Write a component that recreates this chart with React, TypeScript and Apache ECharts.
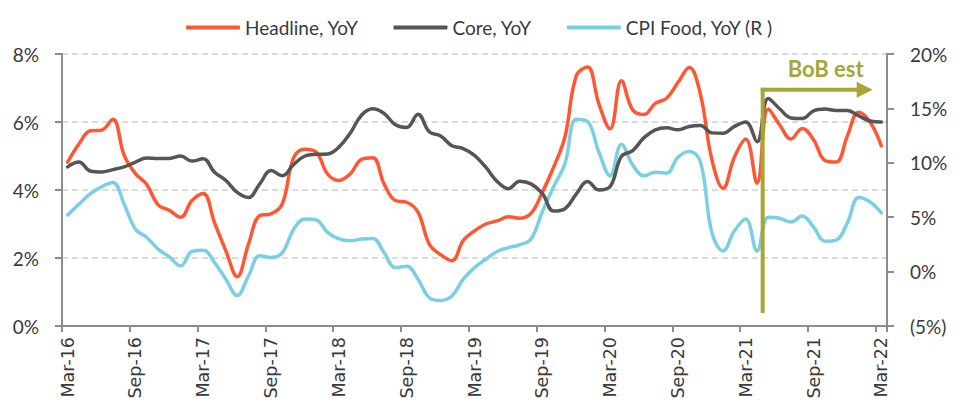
import React, { useEffect, useRef } from 'react';
import * as echarts from 'echarts';

const categories = [
  'Mar-16','Apr-16','May-16','Jun-16','Jul-16','Aug-16','Sep-16','Oct-16','Nov-16','Dec-16','Jan-17','Feb-17',
  'Mar-17','Apr-17','May-17','Jun-17','Jul-17','Aug-17','Sep-17','Oct-17','Nov-17','Dec-17','Jan-18','Feb-18',
  'Mar-18','Apr-18','May-18','Jun-18','Jul-18','Aug-18','Sep-18','Oct-18','Nov-18','Dec-18','Jan-19','Feb-19',
  'Mar-19','Apr-19','May-19','Jun-19','Jul-19','Aug-19','Sep-19','Oct-19','Nov-19','Dec-19','Jan-20','Feb-20',
  'Mar-20','Apr-20','May-20','Jun-20','Jul-20','Aug-20','Sep-20','Oct-20','Nov-20','Dec-20','Jan-21','Feb-21',
  'Mar-21','Apr-21','May-21','Jun-21','Jul-21','Aug-21','Sep-21','Oct-21','Nov-21','Dec-21','Jan-22','Feb-22',
  'Mar-22',
];

const headline = [
  4.82, 5.35, 5.74, 5.76, 6.08, 5.02, 4.48, 4.16, 3.56, 3.4, 3.2, 3.69,
  3.9, 3.03, 2.21, 1.45, 2.41, 3.25, 3.3, 3.6, 4.95, 5.2, 5.11, 4.47,
  4.28, 4.47, 4.9, 4.95, 4.18, 3.69, 3.64, 3.35, 2.41, 2.1, 1.92, 2.51,
  2.8, 3.0, 3.09, 3.21, 3.17, 3.31, 3.93, 4.67, 5.56, 7.35, 7.62, 6.54,
  5.8, 7.21, 6.35, 6.22, 6.55, 6.7, 7.16, 7.6, 6.8, 4.9, 4.05, 4.97,
  5.5, 4.2, 6.38, 5.92, 5.5, 5.81, 5.48, 4.87, 4.82, 5.6, 6.29, 6.0,
  5.3,
];

const core = [
  4.68, 4.82, 4.56, 4.53, 4.6, 4.68, 4.82, 4.94, 4.93, 4.93, 5.0, 4.85,
  4.92, 4.52, 4.28, 3.93, 3.78, 4.18, 4.57, 4.42, 4.75, 5.0, 5.05, 5.06,
  5.26, 5.67, 6.2, 6.39, 6.25, 5.92, 5.84, 6.23, 5.71, 5.59, 5.3, 5.22,
  5.02, 4.67, 4.25, 4.04, 4.26, 4.18, 3.9, 3.38, 3.45, 3.88, 4.25, 4.0,
  4.1, 4.99, 5.16, 5.54, 5.77, 5.83, 5.77, 5.87, 5.9, 5.68, 5.67, 5.87,
  6.0, 5.42, 6.69, 6.39, 6.12, 6.1, 6.33, 6.38, 6.34, 6.34, 6.18, 6.03,
  6.0,
];

const cpiFood = [
  5.2, 6.2, 7.14, 7.8, 8.2, 6.2, 3.9, 3.14, 2.06, 1.35, 0.52, 1.85,
  1.97, 0.83, -0.7, -2.2, -0.4, 1.45, 1.3, 1.75, 3.9, 4.83, 4.74, 3.6,
  3.0, 2.83, 3.0, 3.05, 1.75, 0.37, 0.49, -0.7, -2.4, -2.65, -2.25, -0.7,
  0.37, 1.14, 1.85, 2.2, 2.46, 3.0, 5.5, 7.8, 9.9, 14.0, 13.8, 11.0,
  8.8, 11.7, 9.8, 8.8, 9.14, 9.05, 10.5, 11.05, 10.06, 3.6, 1.9, 3.75,
  4.83, 1.9, 5.0, 4.9, 4.55, 5.1, 4.1, 2.8, 2.9, 4.5, 6.8, 6.4,
  5.4,
];

const seriesNames = ['Headline, YoY', 'Core, YoY', 'CPI Food, YoY (R )'];
const seriesColors = ['#FF5733', '#555555', '#7ACFE3'];
const estStart = 'May-21';
const estLabel = 'BoB est';
const olive = '#A4A735';
const FONT = 'Lato, "Noto Sans", sans-serif';
const XFONT = '"DejaVu Sans", Lato, sans-serif';

function fmtRight(v: number) {
  return v < 0 ? `(${Math.abs(v)}%)` : `${v}%`;
}

export default function App() {
  const ref = useRef<HTMLDivElement>(null);
  useEffect(() => {
    if (!ref.current) return;
    const chart = echarts.init(ref.current, null, { renderer: 'svg' });
    const axisLine = { show: true, lineStyle: { color: '#8c8c8c', width: 2 } };
    chart.setOption({
      animation: false,
      textStyle: { fontFamily: FONT },
      grid: { left: 62, right: 80, top: 54, bottom: 82, containLabel: false },
      legend: {
        left: 181,
        top: 13,
        icon: 'roundRect',
        itemWidth: 54,
        itemHeight: 4,
        itemGap: 35,
        textStyle: { fontSize: 19, color: '#3a3a3a', fontFamily: FONT },
        data: seriesNames,
      },
      xAxis: {
        type: 'category',
        data: categories,
        boundaryGap: true,
        axisLine,
        axisTick: {
          show: true,
          length: 6,
          lineStyle: { color: '#8c8c8c', width: 2 },
          interval: (i: number) => i % 6 === 0,
        },
        axisLabel: {
          rotate: 90,
          margin: 11,
          fontSize: 17.5,
          color: '#3a3a3a',
          fontFamily: XFONT,
          interval: (i: number) => i % 6 === 0,
        },
        splitLine: { show: false },
      },
      yAxis: [
        {
          type: 'value',
          min: 0,
          max: 8,
          interval: 2,
          position: 'left',
          axisLine,
          axisTick: { show: true, length: 7, lineStyle: { color: '#8c8c8c', width: 2 } },
          axisLabel: { formatter: '{value}%', fontSize: 19, color: '#3a3a3a', margin: 23, fontFamily: FONT },
          splitLine: { show: true, lineStyle: { color: '#d0d0d0', width: 1.5, type: [6, 4] } },
        },
        {
          type: 'value',
          min: -5,
          max: 20,
          interval: 5,
          position: 'right',
          axisLine,
          axisTick: { show: true, length: 7, lineStyle: { color: '#8c8c8c', width: 2 } },
          axisLabel: { formatter: fmtRight, fontSize: 19, color: '#3a3a3a', margin: 23, fontFamily: FONT },
          splitLine: { show: false },
        },
      ],
      series: [
        { name: seriesNames[0], type: 'line', data: headline, yAxisIndex: 0, z: 3 },
        { name: seriesNames[1], type: 'line', data: core, yAxisIndex: 0, z: 4 },
        { name: seriesNames[2], type: 'line', data: cpiFood, yAxisIndex: 1, z: 2 },
      ].map((s, i) => ({
        ...s,
        smooth: 0.4,
        showSymbol: false,
        symbol: 'none',
        color: seriesColors[i],
        lineStyle: { color: seriesColors[i], width: 3.5, cap: 'round', join: 'round' },
      })),
    });

    const idx = categories.indexOf(estStart);
    const xc = chart.convertToPixel({ xAxisIndex: 0 }, estStart) as number;
    const xn = chart.convertToPixel({ xAxisIndex: 0 }, categories[idx + 1]) as number;
    const x0 = xc - (xn - xc) / 2;
    const yTop = chart.convertToPixel({ yAxisIndex: 0 }, 6.95) as number;
    const yBot = chart.convertToPixel({ yAxisIndex: 0 }, 0.38) as number;
    const tip = x0 + 110;
    chart.setOption({
      graphic: [
        {
          type: 'line',
          shape: { x1: x0, y1: yBot, x2: x0, y2: yTop - 2 },
          style: { stroke: olive, lineWidth: 4 },
          z: 10,
        },
        {
          type: 'line',
          shape: { x1: x0 - 2, y1: yTop, x2: tip - 14, y2: yTop },
          style: { stroke: olive, lineWidth: 4 },
          z: 10,
        },
        {
          type: 'polygon',
          shape: { points: [[tip - 16, yTop - 8], [tip, yTop], [tip - 16, yTop + 8]] },
          style: { fill: olive },
          z: 10,
        },
        {
          type: 'text',
          x: x0 + 63,
          y: yTop - 21,
          style: {
            text: estLabel,
            fill: olive,
            font: `bold 22px ${FONT}`,
            textAlign: 'center',
            textVerticalAlign: 'middle',
          },
          z: 10,
        },
      ],
    });

    return () => chart.dispose();
  }, []);

  return (
    <div
      ref={ref}
      style={{ position: 'fixed', left: 0, top: 0, width: 967, height: 408, background: '#fff' }}
    />
  );
}
